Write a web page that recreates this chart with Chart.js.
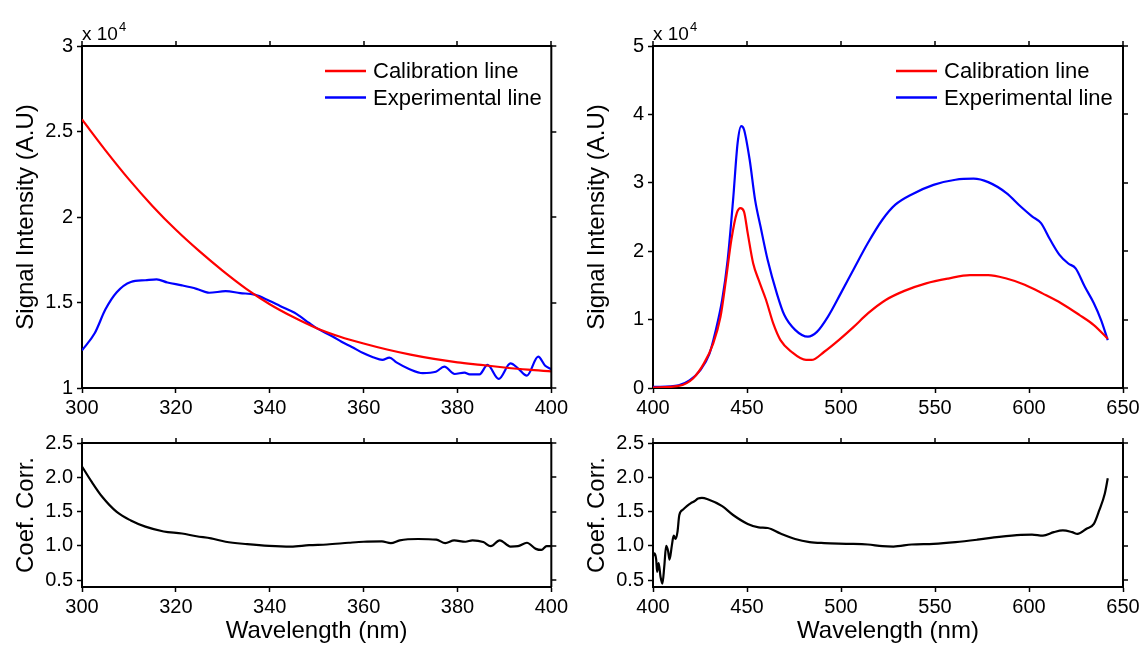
<!DOCTYPE html>
<html><head><meta charset="utf-8">
<script src="https://cdn.jsdelivr.net/npm/chart.js@4/dist/chart.umd.min.js"></script>
<style>
html,body{margin:0;padding:0;background:#fff;width:1143px;height:645px;overflow:hidden}
canvas{position:absolute}
</style></head><body>
<canvas id="tl" width="571" height="425" style="left:0;top:0"></canvas>
<canvas id="tr" width="572" height="425" style="left:571px;top:0"></canvas>
<canvas id="bl" width="571" height="220" style="left:0;top:425px"></canvas>
<canvas id="br" width="572" height="220" style="left:571px;top:425px"></canvas>
<script>
const FONT = "'Liberation Sans', Arial, Helvetica, sans-serif";

// ---------- UV range (300-400 nm), intensities in units of 10^4 ----------
const uvCalibWl = [300,305,310,315,320,325,330,335,340,345,350,355,360,365,370,375,380,385,390,395,400];
const uvCalib   = [2.57,2.39,2.22,2.065,1.925,1.80,1.685,1.58,1.49,1.415,1.35,1.30,1.26,1.225,1.195,1.17,1.15,1.135,1.12,1.107,1.097];

const uvExpWl = [300,302.7,305,307.4,310.4,313.5,315.9,318.2,321.3,324.4,327.1,330.6,333.7,336.8,339.9,342.2,345.3,346.4,348.4,350,353.5,355.3,357.5,359.9,362,364,365.5,367,369.8,372.6,375.4,377.2,379.4,381.5,382.6,384.7,386.4,388.8,391.3,392.9,394.8,397.2,398.7,400];
const uvExp   = [1.22,1.32,1.46,1.56,1.62,1.63,1.635,1.617,1.60,1.58,1.557,1.566,1.555,1.546,1.51,1.48,1.44,1.42,1.38,1.35,1.30,1.27,1.24,1.204,1.18,1.164,1.178,1.15,1.11,1.087,1.095,1.125,1.082,1.09,1.08,1.08,1.135,1.053,1.144,1.115,1.072,1.183,1.13,1.11];

const uvCoefWl = [300,302,304.3,307.4,310.4,313.5,317.4,321.3,324.4,327.5,330.6,335.2,339.9,344.5,348.4,352.2,356.8,360,363.9,365.8,367.7,371.6,375.5,377.4,379.3,381.7,383.2,385.5,387.1,389,391.3,392.9,394.8,396.7,397.9,399,400];
const uvCoef   = [2.157,1.94,1.716,1.495,1.37,1.28,1.21,1.18,1.14,1.11,1.06,1.025,1.0,0.99,1.01,1.02,1.045,1.06,1.064,1.04,1.08,1.10,1.09,1.04,1.08,1.06,1.08,1.055,0.995,1.08,0.99,0.995,1.045,0.956,0.94,0.995,0.995];

// ---------- Visible range (400-650 nm), intensities in units of 10^4 ----------
const visCalibWl = [400,413.6,421.3,427.1,432,435.9,438.8,441.7,444.6,446.5,448.4,450.4,453.3,456.2,460.1,464,467.8,473.6,481.4,484.3,491.1,498.8,506.6,514.3,524,533.7,545.3,557,568.6,578.3,588,597.7,607.4,617.1,626.7,634.5,641.9];
const visCalib   = [0.005,0.03,0.14,0.36,0.65,1.04,1.58,2.17,2.56,2.63,2.58,2.26,1.82,1.58,1.29,0.94,0.70,0.53,0.41,0.41,0.53,0.70,0.89,1.09,1.29,1.42,1.53,1.60,1.65,1.65,1.60,1.51,1.38,1.24,1.07,0.92,0.72];

const visExpWl = [400,413.6,419.4,425.2,430,433,436.8,439.7,442.6,445,446.9,448.4,451.4,454.3,457.2,461,465.9,469.8,475.6,482.4,487.2,493,499.8,506.6,514.3,522,528.9,537.6,549.2,560.9,570.5,578.3,588,595.7,601.6,606.4,611.2,616.1,620.9,624.8,629.7,634.5,638.4,641.9];
const visExp   = [0.015,0.04,0.11,0.26,0.50,0.80,1.29,1.87,2.75,3.58,3.83,3.78,3.34,2.75,2.36,1.87,1.38,1.07,0.85,0.75,0.82,1.04,1.38,1.73,2.12,2.46,2.68,2.83,2.97,3.045,3.06,3.01,2.85,2.65,2.51,2.41,2.17,1.95,1.82,1.75,1.48,1.24,0.99,0.70];

const visCoefWl = [400,400.8,401.7,402.2,403,404,405,406,407,408,408.8,410,411,412,413,414,416,418,420,422,424,426,429.1,436.8,442.6,450.4,456.2,461,467.8,475.6,483.3,491.1,502.7,514.3,522,527.9,537.6,549.2,560.9,572.5,584.1,595.7,601.6,607.4,613.2,618,622.9,625.8,630.6,634.5,637.4,640.3,641.9];
const visCoef   = [0.85,0.89,0.80,0.62,0.75,0.55,0.45,0.70,1.0,0.93,0.80,1.0,1.15,1.10,1.20,1.45,1.53,1.58,1.62,1.65,1.69,1.70,1.68,1.58,1.45,1.32,1.27,1.26,1.18,1.10,1.055,1.04,1.03,1.02,0.995,0.99,1.02,1.03,1.055,1.09,1.13,1.16,1.165,1.15,1.20,1.225,1.20,1.175,1.25,1.32,1.52,1.76,1.985];

// ---------- Tick labels ----------
const uvXTicks = [300,320,340,360,380,400];
const visXTicks = [400,450,500,550,600,650];
const uvYTicks = [1,1.5,2,2.5,3];
const visYTicks = [0,1,2,3,4,5];
const coefYTicks = [0.5,1.0,1.5,2.0,2.5];
const seriesLabels = ['Calibration line','Experimental line'];
const seriesColors = ['#ff0000','#0000ff'];

function pts(xs, ys){ return xs.map((x,i)=>({x:x, y:ys[i]})); }

const framePlugin = {
  id:'frame',
  afterDraw(chart, args, o){
    const ctx = chart.ctx, a = chart.chartArea;
    const xs = chart.scales.x, ys = chart.scales.y;
    ctx.save();
    ctx.strokeStyle = '#000';
    ctx.lineWidth = 2;
    ctx.beginPath();
    ctx.moveTo(a.left, a.top); ctx.lineTo(a.right, a.top); ctx.lineTo(a.right, a.bottom);
    ctx.stroke();
    ctx.lineWidth = 1.5;
    ctx.beginPath();
    xs.ticks.forEach(t=>{ const p = Math.round(xs.getPixelForValue(t.value)); ctx.moveTo(p, a.top); ctx.lineTo(p, a.top-5); });
    ys.ticks.forEach(t=>{ const p = Math.round(ys.getPixelForValue(t.value)); ctx.moveTo(a.right, p); ctx.lineTo(a.right+5, p); });
    ctx.stroke();
    if (o.exponent){
      ctx.fillStyle = '#000';
      ctx.textBaseline = 'alphabetic';
      ctx.textAlign = 'left';
      ctx.font = '19px ' + FONT;
      const s = 'x 10';
      ctx.fillText(s, a.left, a.top - 6);
      const w = ctx.measureText(s).width;
      ctx.font = '13px ' + FONT;
      ctx.fillText('4', a.left + w + 1, a.top - 15);
    }
    if (o.legend){
      ctx.textBaseline = 'middle';
      ctx.textAlign = 'left';
      ctx.font = '22px ' + FONT;
      chart.data.datasets.forEach((d,i)=>{
        const y = 71 + i*26.5;
        const x0 = a.left + 243;
        ctx.strokeStyle = d.borderColor;
        ctx.lineWidth = 2.5;
        ctx.beginPath(); ctx.moveTo(x0, y); ctx.lineTo(x0+41, y); ctx.stroke();
        ctx.fillStyle = '#000';
        ctx.fillText(d.label, x0 + 48, y + 1);
      });
    }
    ctx.restore();
  }
};

function makeChart(id, datasets, c){
  const tickFont = {family: FONT, size: 20};
  new Chart(document.getElementById(id), {
    type:'line',
    data:{datasets: datasets.map(d=>({
      label:d.label, data:d.data, borderColor:d.color, backgroundColor:d.color,
      borderWidth:2.2, pointRadius:0, fill:false, cubicInterpolationMode:'monotone'
    }))},
    options:{
      responsive:false, animation:false, devicePixelRatio:1,
      layout:{padding:{top:c.padTop, right:c.padRight, left:0, bottom:0}},
      plugins:{legend:{display:false}, tooltip:{enabled:false},
        frame:{legend:c.legend, exponent:c.exponent}},
      scales:{
        x:{type:'linear', min:c.xTicks[0], max:c.xTicks[c.xTicks.length-1],
          afterBuildTicks:s=>{ s.ticks = c.xTicks.map(v=>({value:v})); },
          afterFit:s=>{ s.height = c.xHeight; },
          border:{display:true, color:'#000', width:2},
          grid:{display:true, drawOnChartArea:false, drawTicks:true, tickLength:5, tickWidth:1.5, tickColor:'#000'},
          ticks:{color:'#000', font:tickFont, padding:3, maxRotation:0, autoSkip:false},
          title:{display:!!c.xTitle, text:c.xTitle||'', color:'#000', font:{family:FONT, size:24, lineHeight:1.1}, padding:{top:0,bottom:0}}
        },
        y:{type:'linear', min:c.yMin, max:c.yMax,
          afterBuildTicks:s=>{ s.ticks = c.yTicks.map(v=>({value:v})); },
          afterFit:s=>{ s.width = 82; },
          border:{display:true, color:'#000', width:2},
          grid:{display:true, drawOnChartArea:false, drawTicks:true, tickLength:5, tickWidth:1.5, tickColor:'#000'},
          ticks:{color:'#000', font:tickFont, padding:4, callback:c.yFmt},
          title:{display:true, text:c.yTitle, color:'#000', font:{family:FONT, size:24, lineHeight:1.1}, padding:{top:13,bottom:0}}
        }
      }
    },
    plugins:[framePlugin]
  });
}

makeChart('tl', [
  {label:seriesLabels[0], data:pts(uvCalibWl, uvCalib), color:seriesColors[0]},
  {label:seriesLabels[1], data:pts(uvExpWl, uvExp), color:seriesColors[1]}
], {xTicks:uvXTicks, yMin:1, yMax:3, yTicks:uvYTicks, yFmt:v=>String(v), yTitle:'Signal Intensity (A.U)',
    padTop:46, padRight:19, xHeight:37, legend:true, exponent:true});

makeChart('tr', [
  {label:seriesLabels[0], data:pts(visCalibWl, visCalib), color:seriesColors[0]},
  {label:seriesLabels[1], data:pts(visExpWl, visExp), color:seriesColors[1]}
], {xTicks:visXTicks, yMin:0, yMax:5, yTicks:visYTicks, yFmt:v=>String(v), yTitle:'Signal Intensity (A.U)',
    padTop:46, padRight:20, xHeight:37, legend:true, exponent:true});

makeChart('bl', [
  {label:'Coef. Corr.', data:pts(uvCoefWl, uvCoef), color:'#000'}
], {xTicks:uvXTicks, yMin:0.4, yMax:2.5, yTicks:coefYTicks, yFmt:v=>v.toFixed(1), yTitle:'Coef. Corr.',
    xTitle:'Wavelength (nm)', padTop:18, padRight:19, xHeight:58, legend:false, exponent:false});

makeChart('br', [
  {label:'Coef. Corr.', data:pts(visCoefWl, visCoef), color:'#000'}
], {xTicks:visXTicks, yMin:0.4, yMax:2.5, yTicks:coefYTicks, yFmt:v=>v.toFixed(1), yTitle:'Coef. Corr.',
    xTitle:'Wavelength (nm)', padTop:18, padRight:20, xHeight:58, legend:false, exponent:false});
</script>
</body></html>
